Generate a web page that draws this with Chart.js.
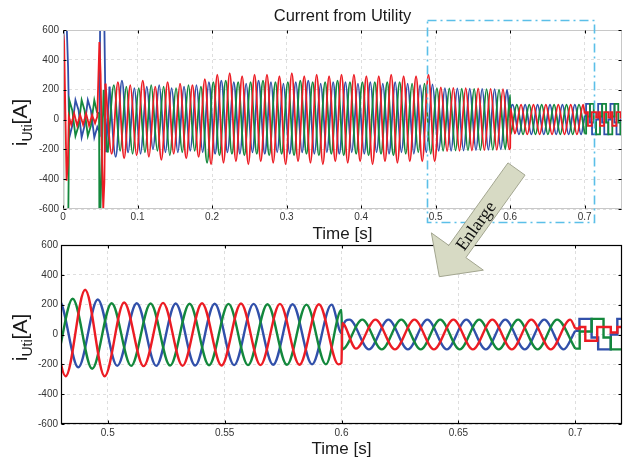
<!DOCTYPE html>
<html>
<head>
<meta charset="utf-8">
<script src="https://cdn.jsdelivr.net/npm/chart.js@4.4.1/dist/chart.umd.min.js"></script>
<style>
  html, body { margin: 0; padding: 0; background: #fff; }
  #wrap { position: relative; width: 636px; height: 459px; overflow: hidden; }
  #wrap canvas { position: absolute; left: 0; }
</style>
</head>
<body>
<div id="wrap">
  <canvas id="zoomChart" width="636" height="223" style="top:236px"></canvas>
  <canvas id="topChart" width="636" height="246" style="top:0"></canvas>
  <canvas id="overlay" width="636" height="459" style="top:0"></canvas>
</div>
<script>
// ---- data ----
const xTicksTop = [0, 0.1, 0.2, 0.3, 0.4, 0.5, 0.6, 0.7];
const xTicksZoom = [0.5, 0.55, 0.6, 0.65, 0.7];
const yTicks = [-600, -400, -200, 0, 200, 400, 600];
const enlargeFrom = 0.489, enlargeTo = 0.712;

const halfCycle = 1 / 120; // 60 Hz, one peak every half cycle

// red phase
const redOnset = [[0,0],[0.0005,570],[0.0015,520],[0.003,100],[0.0048,-410],[0.0065,-300],[0.0078,20],[0.011,-35],[0.015,40],[0.019,-40],[0.023,30],[0.027,-35],[0.031,40],[0.035,-40],[0.039,30],[0.043,-25],[0.046,20],[0.0488,520],[0.0505,300],[0.0525,-300],[0.054,-600],[0.0555,-420],[0.057,240]];
const redStartA = 0.057;
const redPeaksA = [240,-230,250,-260,230,-240,260,-250,220,-270,250,-230,240,-260,230,-250,
  270,-300,300,-290,310,-280,290,-300,300,-280,300,-290,290,-300,310,-280,290,-290,300,-300,
  290,-280,300,-290,300,-280,290,-300,290,-280,300,-290,290,-280,290,
  -280,300,-280,
  215,-212,212,-210,210,-208,208,-205,205,-203,203,-200];
const redSwitch = [[0.6,-190],[0.6003,75]];
const redStartB = 0.6062;
const redPeaksB = [-95,100,-100,100,-100,100,-100,100,-100,100,-100,100];
const redTail = [[0.7,40],[0.7019,50],[0.7043,-42],[0.7094,50],[0.7152,13],[0.718,50],[0.7205,-42],[0.726,50],[0.7316,13],[0.7345,50],[0.737,-42],[0.7425,50],[0.748,13],[0.752,13]];

// green phase
const greenOnset = [[0,0],[0.0004,-700],[0.007,-700],[0.0085,130],[0.0125,60],[0.0167,-110],[0.021,-40],[0.025,130],[0.029,60],[0.0333,-110],[0.0375,-40],[0.042,130],[0.0455,50],[0.0484,40],[0.0488,-700],[0.0497,-700],[0.0545,200],[0.0572,-100],[0.06,-220]];
const greenStartA = 0.06;
const greenPeaksA = [-220,230,-210,220,-230,210,-220,230,-210,220,-240,210,-220,230,-210,220,
  -290,250,-240,260,-230,250,-240,250,-230,260,-240,250,-230,250,-240,260,-230,250,-240,250,
  -230,260,-240,250,-230,250,-240,250,-230,250,-240,250,-230,240,-220,
  240,-230,
  210,-210,208,-208,206,-206,205,-205,203,-203,200,-200];
const greenSwitch = [[0.6,165],[0.6003,-100]];
const greenStartB = 0.6089;
const greenPeaksB = [100,-100,100,-100,100,-100,100,-100,100,-100,100];
const greenTail = [[0.7,-95],[0.7019,20],[0.707,105],[0.7121,-20],[0.7152,-100],[0.7205,20],[0.7234,105],[0.7286,-20],[0.7316,-100],[0.737,20],[0.74,105],[0.745,-20],[0.748,-100],[0.752,-100]];

// blue phase
const blueOnset = [[0,0],[0.0008,700],[0.0045,700],[0.0068,350],[0.0085,-120],[0.0125,-40],[0.0167,130],[0.021,60],[0.025,-120],[0.029,-40],[0.0333,130],[0.0375,60],[0.042,-120],[0.046,-50],[0.0492,-90],[0.0498,700],[0.0553,700],[0.0578,-220],[0.0624,220]];
const blueStartA = 0.0624;
const bluePeaksA = [220,-250,260,-220,210,-230,220,-200,230,-220,210,-220,220,-210,230,-220,
  250,-230,260,-220,250,-230,240,-220,260,-230,250,-220,240,-230,250,-220,260,-230,240,-220,
  250,-230,250,-220,240,-230,250,-220,240,-230,250,-220,240,-230,230,
  -220,235,
  -210,210,-210,208,-208,206,-205,205,-203,203,-200,200];
const blueSwitch = [[0.6,10],[0.6003,40]];
const blueStartB = 0.6034;
const bluePeaksB = [100,-100,100,-100,100,-100,100,-100,100,-100,100,-100];
const blueTail = [[0.7,25],[0.7018,105],[0.707,-20],[0.7098,-100],[0.7152,0],[0.718,105],[0.7233,-20],[0.7262,-100],[0.7316,0],[0.7345,105],[0.7398,-20],[0.7426,-100],[0.748,0],[0.752,0]];

// ---- building ----
const pairs = list => list.map(p => ({x: p[0], y: p[1]}));
const peaks = (start, list) => list.map((v, i) => ({x: start + i * halfCycle, y: v}));

const phases = [
  {color: '#ec1c24', onset: redOnset, tail: redTail,
   smooth: [...peaks(redStartA, redPeaksA), ...pairs(redSwitch), ...peaks(redStartB, redPeaksB), ...pairs(redTail.slice(0, 1))]},
  {color: '#13883c', onset: greenOnset, tail: greenTail,
   smooth: [...peaks(greenStartA, greenPeaksA), ...pairs(greenSwitch), ...peaks(greenStartB, greenPeaksB), ...pairs(greenTail.slice(0, 1))]},
  {color: '#3150aa', onset: blueOnset, tail: blueTail,
   smooth: [...peaks(blueStartA, bluePeaksA), ...pairs(blueSwitch), ...peaks(blueStartB, bluePeaksB), ...pairs(blueTail.slice(0, 1))]}
];

function makeDatasets(w) {
  const sets = [];
  phases.forEach(p => {
    const base = {borderColor: p.color, borderWidth: w, pointRadius: 0, fill: false};
    sets.push(Object.assign({data: p.smooth.slice(), cubicInterpolationMode: 'monotone'}, base));
    sets.push(Object.assign({data: pairs(p.onset), tension: 0}, base));
    sets.push(Object.assign({data: pairs(p.tail), stepped: true}, base));
  });
  return sets;
}

Chart.defaults.font.family = "'Liberation Sans', Arial, sans-serif";

const sans = "'Liberation Sans', Arial, sans-serif";

const frame = {
  id: 'frame',
  afterDraw(chart, args, o) {
    const {ctx, chartArea: a, scales: {x, y}} = chart;
    ctx.save();
    const l = Math.round(a.left) + 0.5, r = Math.round(a.right) - 0.5;
    const t = Math.round(a.top) + 0.5, b = Math.round(a.bottom) - 0.5;
    ctx.strokeStyle = o.color;
    ctx.lineWidth = o.width;
    ctx.strokeRect(l, t, r - l, b - t);
    // little inward ticks, matlab style
    ctx.strokeStyle = '#000';
    ctx.lineWidth = 1;
    ctx.beginPath();
    x.ticks.forEach(tk => {
      const px = Math.round(x.getPixelForValue(tk.value)) + 0.5;
      ctx.moveTo(px, b); ctx.lineTo(px, b - 3);
      ctx.moveTo(px, t); ctx.lineTo(px, t + 3);
    });
    y.ticks.forEach(tk => {
      const py = Math.round(y.getPixelForValue(tk.value)) + 0.5;
      ctx.moveTo(l, py); ctx.lineTo(l + 3, py);
      ctx.moveTo(r, py); ctx.lineTo(r - 3, py);
    });
    ctx.stroke();

    const cx = (a.left + a.right) / 2;
    ctx.fillStyle = '#1a1a1a';
    ctx.textAlign = 'center';
    ctx.textBaseline = 'middle';
    if (o.title) {
      ctx.font = '16.5px ' + sans;
      ctx.fillText(o.title, cx, o.titleY);
    }
    ctx.font = '17px ' + sans;
    ctx.fillText('Time [s]', cx, o.xTitleY);

    // y title: i with subscript Uti, then [A]
    ctx.translate(o.yTitleX, (a.top + a.bottom) / 2 + 3);
    ctx.rotate(-Math.PI / 2);
    ctx.textAlign = 'left';
    ctx.textBaseline = 'alphabetic';
    const big = '21px ' + sans, small = '14px ' + sans;
    ctx.font = big;
    const wI = ctx.measureText('i').width, wA = ctx.measureText('[A]').width;
    ctx.font = small;
    const wS = ctx.measureText('Uti').width;
    let px = -(wI + wS + wA) / 2;
    ctx.font = big; ctx.fillText('i', px, 0); px += wI;
    ctx.font = small; ctx.fillText('Uti', px, 5); px += wS;
    ctx.font = big; ctx.fillText('[A]', px, 0);
    ctx.restore();
  }
};

function options(xMin, xMax, xTicks, box, frameOpts) {
  const fmt = v => String(+Number(v).toFixed(2));
  return {
    responsive: false,
    maintainAspectRatio: false,
    animation: false,
    events: [],
    layout: {padding: {left: 0, right: box.right, top: box.top, bottom: 0}},
    plugins: {legend: {display: false}, tooltip: {enabled: false}, frame: frameOpts},
    scales: {
      x: {
        type: 'linear', min: xMin, max: xMax,
        afterBuildTicks: s => { s.ticks = xTicks.map(v => ({value: v})); },
        afterFit: s => { s.height = box.xHeight; },
        ticks: {callback: fmt, font: {size: 10}, color: '#333', padding: box.xPad, maxRotation: 0, autoSkip: false},
        grid: {color: '#dedede', lineWidth: 1, drawTicks: false},
        border: {display: false, dash: [3, 3]}
      },
      y: {
        min: -600, max: 600,
        afterBuildTicks: s => { s.ticks = yTicks.map(v => ({value: v})); },
        afterFit: s => { s.width = box.yWidth; },
        ticks: {callback: fmt, font: {size: 10}, color: '#333', padding: box.yPad, autoSkip: false},
        grid: {color: '#dedede', lineWidth: 1, drawTicks: false},
        border: {display: false, dash: [3, 3]}
      }
    }
  };
}

const topChart = new Chart(document.getElementById('topChart'), {
  type: 'line',
  data: {datasets: makeDatasets(1.8)},
  options: options(0, 0.75, xTicksTop,
    {right: 14, top: 30, xHeight: 37, yWidth: 63, xPad: 2, yPad: 4},
    {color: '#c8c8c8', width: 1, title: 'Current from Utility', titleY: 16, xTitleY: 234, yTitleX: 27}),
  plugins: [frame]
});

const zoomChart = new Chart(document.getElementById('zoomChart'), {
  type: 'line',
  data: {datasets: makeDatasets(2.4)},
  options: options(0.48, 0.72, xTicksZoom,
    {right: 14, top: 9, xHeight: 35, yWidth: 61, xPad: 3, yPad: 3},
    {color: '#000', width: 1.2, title: null, xTitleY: 213, yTitleX: 27}),
  plugins: [frame]
});

// ---- enlarge box and arrow ----
(function () {
  const ov = document.getElementById('overlay').getContext('2d');
  const a = topChart.chartArea;
  const xs = topChart.scales.x;
  const x1 = Math.round(xs.getPixelForValue(enlargeFrom)) + 0.5;
  const x2 = Math.round(xs.getPixelForValue(enlargeTo)) + 0.5;
  const y1 = Math.round(a.top) - 9.5, y2 = Math.round(a.bottom) + 13.5;
  ov.save();
  ov.strokeStyle = '#5bbfe8';
  ov.lineWidth = 1.6;
  ov.setLineDash([9, 4, 2, 4]);
  ov.strokeRect(x1, y1, x2 - x1, y2 - y1);
  ov.restore();

  const from = {x: 516.5, y: 169}, tip = {x: 439.3, y: 276.7};
  const dx = tip.x - from.x, dy = tip.y - from.y;
  const len = Math.hypot(dx, dy);
  const u = {x: dx / len, y: dy / len}, n = {x: -u.y, y: u.x};
  const shaft = 10.5, head = 32, headLen = 31;
  const base = {x: from.x + u.x * (len - headLen), y: from.y + u.y * (len - headLen)};
  const pts = [
    [from.x + n.x * shaft, from.y + n.y * shaft],
    [base.x + n.x * shaft, base.y + n.y * shaft],
    [base.x + n.x * head, base.y + n.y * head],
    [tip.x, tip.y],
    [base.x - n.x * head, base.y - n.y * head],
    [base.x - n.x * shaft, base.y - n.y * shaft],
    [from.x - n.x * shaft, from.y - n.y * shaft]
  ];
  ov.save();
  ov.beginPath();
  pts.forEach((p, i) => i ? ov.lineTo(p[0], p[1]) : ov.moveTo(p[0], p[1]));
  ov.closePath();
  ov.fillStyle = '#d7dac4';
  ov.fill();
  ov.strokeStyle = '#a2a58f';
  ov.lineWidth = 1;
  ov.stroke();

  ov.translate(from.x + u.x * 70, from.y + u.y * 70);
  ov.rotate(Math.atan2(-u.y, -u.x));
  ov.fillStyle = '#111';
  ov.font = "18px 'Liberation Serif', 'Times New Roman', serif";
  ov.textAlign = 'center';
  ov.textBaseline = 'middle';
  ov.fillText('Enlarge', 0, 1);
  ov.restore();
})();
</script>
</body>
</html>
